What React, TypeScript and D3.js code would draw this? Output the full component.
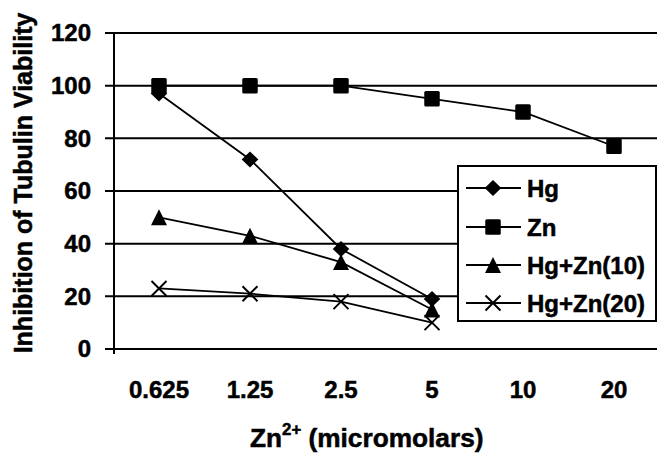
import React from "react";
import * as d3 from "d3";

const categories = ["0.625", "1.25", "2.5", "5", "10", "20"];
const hgValues = [97, 72, 38, 19];
const znValues = [100, 100, 100, 95, 90, 77];
const hgZn10Values = [50, 43, 33, 15];
const hgZn20Values = [23, 21, 18, 10];
const yTicks = [0, 20, 40, 60, 80, 100, 120];
const seriesNames = ["Hg", "Zn", "Hg+Zn(10)", "Hg+Zn(20)"];

const W = 657;
const H = 455;
const FONT = "'Liberation Sans', Arial, Helvetica, sans-serif";
const TEXT_STROKE = 0.5;

type MarkerKind = "diamond" | "square" | "triangle" | "x";

function Marker({ kind, x, y }: { kind: MarkerKind; x: number; y: number }) {
  if (kind === "diamond") {
    const rx = 8.3, ry = 8;
    return <path d={`M${x},${y - ry}L${x + rx},${y}L${x},${y + ry}L${x - rx},${y}Z`} fill="#000" />;
  }
  if (kind === "square") {
    const s = 15.5;
    return <rect x={x - s / 2} y={y - s / 2} width={s} height={s} rx={1.5} fill="#000" />;
  }
  if (kind === "triangle") {
    const w = 16, h = 16;
    return <path d={`M${x},${y - h / 2}L${x + w / 2},${y + h / 2}L${x - w / 2},${y + h / 2}Z`} fill="#000" />;
  }
  const r = 7.5;
  return (
    <path
      d={`M${x - r},${y - r}L${x + r},${y + r}M${x - r},${y + r}L${x + r},${y - r}`}
      stroke="#000"
      strokeWidth={2}
      fill="none"
    />
  );
}

export default function App() {
  const x = d3.scalePoint<string>().domain(categories).range([113.5, 659.5]).padding(0.5);
  const y = d3.scaleLinear().domain([0, 120]).range([349, 33]);

  const series: { name: string; values: number[]; kind: MarkerKind }[] = [
    { name: seriesNames[0], values: hgValues, kind: "diamond" },
    { name: seriesNames[1], values: znValues, kind: "square" },
    { name: seriesNames[2], values: hgZn10Values, kind: "triangle" },
    { name: seriesNames[3], values: hgZn20Values, kind: "x" },
  ];

  const line = d3
    .line<number>()
    .x((_, i) => x(categories[i]) as number)
    .y((d) => y(d));

  const legendX = 458;
  const legendY = 166;
  const legendRows = [188, 227, 265, 303];

  return (
    <svg
      width={W}
      height={H}
      style={{ position: "absolute", left: 0, top: 0, background: "#fff" }}
      fontFamily={FONT}
      fontWeight="bold"
    >
      <rect x={0} y={0} width={W} height={H} fill="#fff" />
      {/* gridlines */}
      {yTicks.map((t) => (
        <line key={t} x1={105} x2={W} y1={y(t)} y2={y(t)} stroke="#000" strokeWidth={2} />
      ))}
      {/* y axis */}
      <line x1={114} x2={114} y1={y(120)} y2={y(0) + 5} stroke="#000" strokeWidth={2} />
      <g stroke="#000" strokeWidth={TEXT_STROKE} fill="#000">
        {/* y tick labels */}
        {yTicks.map((t) => (
          <text key={t} x={91} y={y(t) + 8.2} textAnchor="end" fontSize={24}>
            {t}
          </text>
        ))}
        {/* x tick labels */}
        {categories.map((c) => (
          <text key={c} x={x(c)} y={397.5} textAnchor="middle" fontSize={24}>
            {c}
          </text>
        ))}
      </g>
      {/* series lines */}
      {series.map((s) => (
        <path key={s.name} d={line(s.values) || ""} fill="none" stroke="#000" strokeWidth={1.8} />
      ))}
      {/* markers */}
      {series.map((s) =>
        s.values.map((v, i) => (
          <Marker key={s.name + i} kind={s.kind} x={x(categories[i]) as number} y={y(v)} />
        ))
      )}
      {/* legend */}
      <rect
        x={legendX}
        y={legendY}
        width={656 - legendX}
        height={321 - legendY}
        fill="#fff"
        stroke="#000"
        strokeWidth={2}
      />
      {series.map((s, i) => (
        <g key={s.name}>
          <line x1={466} x2={521} y1={legendRows[i]} y2={legendRows[i]} stroke="#000" strokeWidth={1.8} />
          <Marker kind={s.kind} x={493} y={legendRows[i]} />
          <text
            x={527}
            y={legendRows[i] + 8.5}
            fontSize={24}
            fill="#000"
            stroke="#000"
            strokeWidth={TEXT_STROKE}
          >
            {s.name}
          </text>
        </g>
      ))}
      {/* y axis title */}
      <text
        transform={`translate(32,183) rotate(-90)`}
        textAnchor="middle"
        fontSize={25}
        fill="#000"
        stroke="#000"
        strokeWidth={TEXT_STROKE}
      >
        Inhibition of Tubulin Viability
      </text>
      {/* x axis title */}
      <text
        transform={`translate(250,447) scale(1.05,1)`}
        fontSize={25}
        fill="#000"
        stroke="#000"
        strokeWidth={TEXT_STROKE}
      >
        Zn
        <tspan fontSize={16} dy={-12}>
          2+
        </tspan>
        <tspan dy={12}> (micromolars)</tspan>
      </text>
    </svg>
  );
}
